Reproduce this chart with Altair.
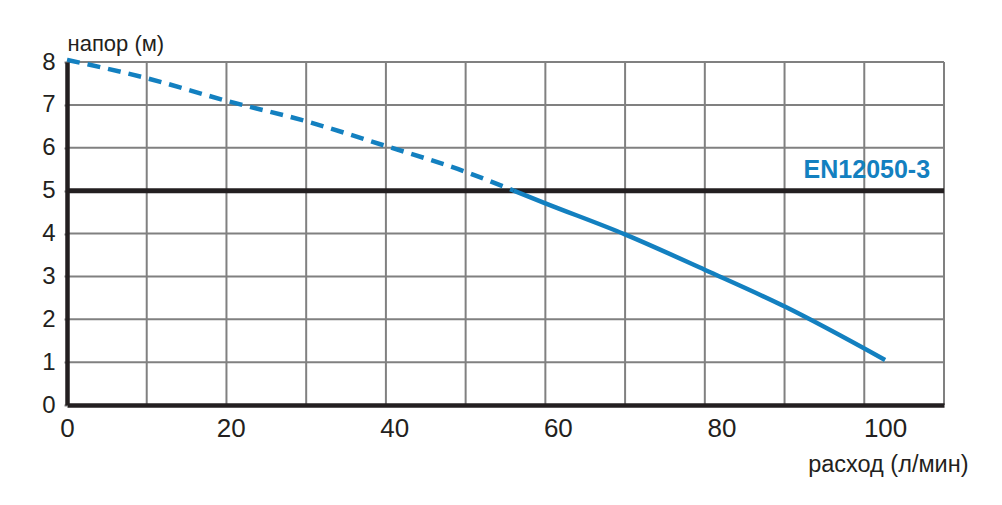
import altair as alt
import pandas as pd

# --- data ---
flow_dashed = [0, 9.8, 19.4, 29.2, 39.0, 48.7, 54.6]
head_dashed = [8.05, 7.62, 7.10, 6.62, 6.04, 5.44, 5.0]
flow_solid = [54.6, 58.4, 68.2, 78.0, 87.8, 100]
head_solid = [5.0, 4.71, 3.98, 3.15, 2.29, 1.05]

x_ticks = [0, 20, 40, 60, 80, 100]
y_ticks = [0, 1, 2, 3, 4, 5, 6, 7, 8]
h_grid = [1, 2, 3, 4, 5, 6, 7, 8]
v_grid = [1, 2, 3, 4, 5, 6, 7, 8, 9, 10, 11]
standard_head = [5]
standard_label = ["EN12050-3"]

BLUE = "#1380c0"
DARK = "#231f20"
GRID = "#808080"
FONT = "Liberation Sans"

x_scale = alt.Scale(domain=[0, 107.2], nice=False, zero=False)
y_scale = alt.Scale(domain=[0, 8], nice=False, zero=False)

dashed_df = pd.DataFrame({"q": flow_dashed, "h": head_dashed})
solid_df = pd.DataFrame({"q": flow_solid, "h": head_solid})

x_axis = alt.Axis(
    values=x_ticks, grid=False, domainWidth=4.5, domainColor=DARK,
    ticks=False, labelFontSize=26, labelColor=DARK, labelFont=FONT,
    labelPadding=10, labelFlush=False, zindex=1,
    title="расход (л/мин)", titleFont=FONT, titleFontSize=23.5, titleFontWeight="normal",
    titleColor=DARK, titleAnchor="end", titleAlign="right", titleX=901, titleY=66,
    titleBaseline="alphabetic",
)
y_axis = alt.Axis(
    values=y_ticks, grid=False, domainWidth=4.5, domainColor=DARK,
    tickSize=3, tickColor=GRID, tickWidth=2,
    labelFontSize=24, labelColor=DARK, labelFont=FONT, labelPadding=9,
    zindex=1,
    title="напор (м)", titleFont=FONT, titleFontSize=22, titleFontWeight="normal",
    titleColor=DARK, titleAngle=0, titleAlign="left", titleX=0, titleY=-12,
    titleBaseline="alphabetic",
)

hgrid = alt.Chart(pd.DataFrame({"h": h_grid})).mark_rule(
    color=GRID, strokeWidth=2
).encode(y=alt.Y("h:Q", scale=y_scale, axis=y_axis))

vgrid = alt.Chart(pd.DataFrame({"g": v_grid})).mark_rule(
    color=GRID, strokeWidth=2
).encode(x=alt.X("g:Q", scale=alt.Scale(domain=[0, 11], nice=False, zero=False), axis=None))

std_rule = alt.Chart(pd.DataFrame({"h": standard_head})).mark_rule(
    color=DARK, strokeWidth=5
).encode(y=alt.Y("h:Q", scale=y_scale, axis=y_axis))

dashed = alt.Chart(dashed_df).mark_line(
    color=BLUE, strokeWidth=4.5, strokeDash=[13, 8], interpolate="monotone"
).encode(
    x=alt.X("q:Q", scale=x_scale, axis=x_axis),
    y=alt.Y("h:Q", scale=y_scale, axis=y_axis),
)

solid = alt.Chart(solid_df).mark_line(
    color=BLUE, strokeWidth=4.5, interpolate="monotone"
).encode(
    x=alt.X("q:Q", scale=x_scale, axis=None),
    y=alt.Y("h:Q", scale=y_scale, axis=y_axis),
)

label = alt.Chart(pd.DataFrame({"t": standard_label, "x": [105.5], "y": [5.3]})).mark_text(
    color=BLUE, font=FONT, fontSize=25, fontWeight="bold", align="right", baseline="alphabetic"
).encode(
    x=alt.X("x:Q", scale=x_scale, axis=None),
    y=alt.Y("y:Q", scale=y_scale, axis=y_axis),
    text="t:N",
)

chart = alt.layer(hgrid, vgrid, std_rule, dashed, solid, label).resolve_scale(
    x="independent"
).resolve_axis(x="independent").properties(
    width=877, height=343,
    autosize=alt.AutoSizeParams(type="none"),
    padding={"left": 59, "top": 54, "right": 50, "bottom": 92},
    background="white",
).configure_view(stroke=None)

chart.save("out.html", embed_options={"renderer": "svg", "actions": False})
